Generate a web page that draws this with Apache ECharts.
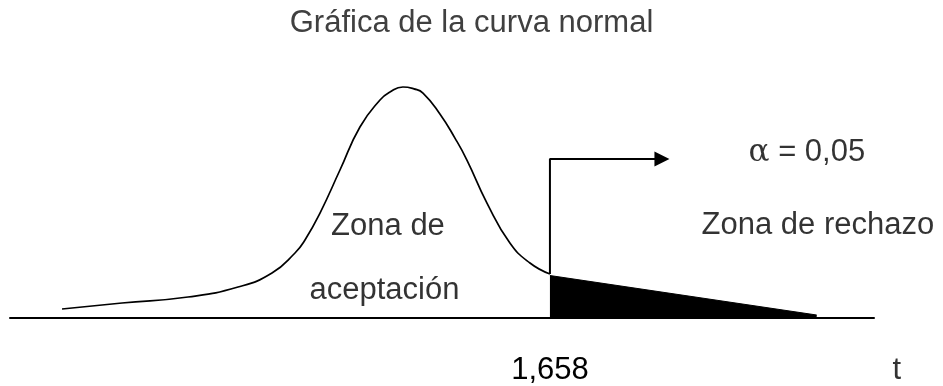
<!DOCTYPE html>
<html>
<head>
<meta charset="utf-8">
<script src="https://cdn.jsdelivr.net/npm/echarts@6/dist/echarts.min.js"></script>
<style>html,body{margin:0;padding:0;background:#fff}#c{width:943px;height:386px}</style>
</head>
<body>
<div id="c"></div>
<script>
// Curve of the "normal" distribution (t units vs density)
var curveT = [-3.961,-3.270,-2.510,-1.934,-1.543,-1.278,-1.163,-0.990,-0.760,-0.530,-0.299,-0.184,-0.035,0.092,0.196,0.391,0.564,0.702,0.933,1.197,1.428,1.658];
var curveY = [0.0148,0.0252,0.0357,0.0530,0.0774,0.1122,0.1348,0.1817,0.2565,0.3313,0.3783,0.3922,0.4009,0.3976,0.3904,0.3539,0.3120,0.2739,0.1991,0.1296,0.0948,0.0757];
// Rejection region (black wedge)
var rejectT = [1.658, 4.73];
var rejectY = [0.073, 0.0043];
// Arrow path (vertical up from critical value, then right)
var arrowT = [1.658, 1.658, 2.948];
var arrowY = [0.0757, 0.2757, 0.2757];
// Critical value tick label
var tickValues = [1.658];
var tickLabels = ['1,658'];
// Annotation texts
var noteTexts = ['Zona de', 'aceptación', '{a|α} = 0,05', 'Zona de rechazo', 't'];
var noteT = [-0.207, -0.248, 4.617, 4.744, 5.653];
var noteY = [0.159, 0.0465, 0.2868, 0.1606, -0.092];

var FONT = 'Liberation Sans, Arial, sans-serif';
function zip(a, b) { return a.map(function (v, i) { return [v, b[i]]; }); }

var chart = echarts.init(document.getElementById('c'), null, {renderer: 'canvas'});
chart.setOption({
  animation: false,
  backgroundColor: '#fff',
  title: {
    text: 'Gráfica de la curva normal',
    left: 'center',
    top: 3,
    textStyle: {fontFamily: FONT, fontSize: 31, fontWeight: 'normal', color: '#404040'}
  },
  grid: {left: 10, right: 69, top: 30, bottom: 68, containLabel: false},
  xAxis: {
    type: 'value', min: -4.56, max: 5.39,
    axisLine: {show: true, onZero: false, lineStyle: {color: '#000', width: 2}},
    axisTick: {show: false},
    splitLine: {show: false},
    axisLabel: {
      show: true,
      customValues: tickValues,
      formatter: function (v) { var i = tickValues.indexOf(v); return i >= 0 ? tickLabels[i] : ''; },
      margin: 53, verticalAlign: 'middle',
      fontFamily: FONT, fontSize: 31, color: '#000'
    }
  },
  yAxis: {
    type: 'value', min: 0, max: 0.5,
    show: false
  },
  series: [
    {
      type: 'line', data: zip(curveT, curveY), smooth: 0.5, symbol: 'none',
      lineStyle: {color: '#000', width: 1.7}, z: 3
    },
    {
      type: 'line', data: zip(rejectT, rejectY), symbol: 'none',
      lineStyle: {color: '#000', width: 1},
      areaStyle: {color: '#000', opacity: 1}, z: 2
    },
    {
      type: 'line', data: zip(arrowT, arrowY), smooth: false,
      showSymbol: true,
      symbol: function (v, p) { return p.dataIndex === arrowT.length - 1 ? 'triangle' : 'none'; },
      symbolSize: function (v, p) { return p.dataIndex === arrowT.length - 1 ? 15 : 0; },
      symbolRotate: -90,
      itemStyle: {color: '#000'},
      lineStyle: {color: '#000', width: 2}, z: 4
    },
    {
      type: 'scatter', clip: false, silent: true, symbolSize: 0,
      data: noteT.map(function (t, i) { return [t, noteY[i], noteTexts[i]]; }),
      label: {
        show: true, position: 'inside', align: 'center', verticalAlign: 'middle',
        formatter: function (p) { return p.value[2]; },
        fontFamily: FONT, fontSize: 31, color: '#000',
        rich: {a: {fontFamily: 'DejaVu Serif, Liberation Serif, serif', fontSize: 31, color: '#000'}}
      }
    }
  ]
});
</script>
</body>
</html>
